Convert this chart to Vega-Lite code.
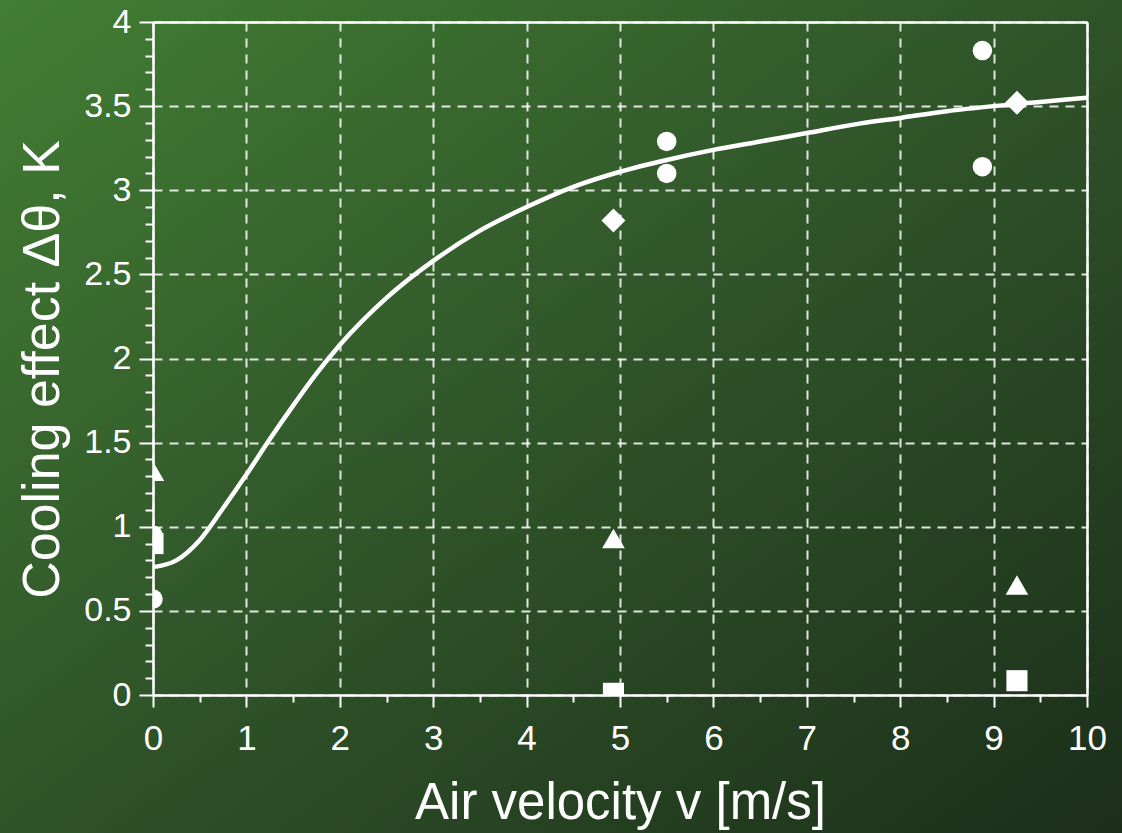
{
  "$schema": "https://vega.github.io/schema/vega-lite/v6.json",
  "width": 934,
  "height": 673,
  "autosize": {"type": "none"},
  "padding": {"left": 153, "top": 22, "right": 35, "bottom": 138},
  "background": "#2f5228",
  "config": {
    "view": {"stroke": null},
    "font": "Liberation Sans",
    "axis": {"labelFont": "Liberation Sans", "titleFont": "Liberation Sans", "labelColor": "white", "titleColor": "white", "titleFontWeight": "normal", "labelFlush": false, "labelOverlap": false}
  },
  "datasets": {
    "fit": [
      {"v": 0, "dT": 0.76}, {"v": 0.25, "dT": 0.80}, {"v": 0.5, "dT": 0.92}, {"v": 0.75, "dT": 1.11},
      {"v": 1, "dT": 1.31}, {"v": 1.25, "dT": 1.52}, {"v": 1.5, "dT": 1.72}, {"v": 1.75, "dT": 1.91},
      {"v": 2, "dT": 2.08}, {"v": 2.5, "dT": 2.36}, {"v": 3, "dT": 2.58}, {"v": 3.5, "dT": 2.76},
      {"v": 4, "dT": 2.90}, {"v": 4.5, "dT": 3.02}, {"v": 5, "dT": 3.11}, {"v": 5.5, "dT": 3.18},
      {"v": 6, "dT": 3.24}, {"v": 6.5, "dT": 3.29}, {"v": 7, "dT": 3.34}, {"v": 7.5, "dT": 3.39},
      {"v": 8, "dT": 3.43}, {"v": 8.5, "dT": 3.47}, {"v": 9, "dT": 3.50}, {"v": 9.5, "dT": 3.525},
      {"v": 10, "dT": 3.55}
    ],
    "points": [
      {"v": 0, "dT": 0.57, "series": "circle"},
      {"v": 0, "dT": 0.95, "series": "circle"},
      {"v": 5.5, "dT": 3.29, "series": "circle"},
      {"v": 5.5, "dT": 3.10, "series": "circle"},
      {"v": 8.88, "dT": 3.83, "series": "circle"},
      {"v": 8.88, "dT": 3.14, "series": "circle"},
      {"v": 0, "dT": 0.9, "series": "square"},
      {"v": 4.93, "dT": 0.01, "series": "square"},
      {"v": 9.25, "dT": 0.085, "series": "square"},
      {"v": 0, "dT": 1.33, "series": "triangle"},
      {"v": 4.93, "dT": 0.93, "series": "triangle"},
      {"v": 9.25, "dT": 0.654, "series": "triangle"},
      {"v": 4.93, "dT": 2.82, "series": "diamond"},
      {"v": 9.25, "dT": 3.52, "series": "diamond"}
    ]
  },
  "resolve": {"axis": {"x": "independent", "y": "independent"}},
  "layer": [
    {
      "data": {"values": [{}]},
      "mark": {"type": "rect", "fill": {"gradient": "linear", "x1": 0, "y1": 0, "x2": 1, "y2": 1, "stops": [{"offset": 0, "color": "#427e33"}, {"offset": 0.45, "color": "#31572a"}, {"offset": 1, "color": "#1b2e19"}]}},
      "encoding": {
        "x": {"datum": -1.64, "type": "quantitative", "scale": {"domain": [0, 10], "nice": false, "zero": false},
          "axis": {"orient": "bottom", "zindex": 1, "title": "Air velocity v [m/s]", "values": [0,1,2,3,4,5,6,7,8,9,10], "format": "~r",
            "domainColor": "white", "domainWidth": 2.5, "tickColor": "white", "tickWidth": 2, "tickSize": 12,
            "labelFontSize": 35, "labelPadding": 14, "titleFontSize": 51, "titleY": 123, "titleBaseline": "alphabetic",
            "grid": true, "gridColor": "white", "gridOpacity": 0.85, "gridDash": [9, 7], "gridWidth": 2}},
        "x2": {"datum": 10.38},
        "y": {"datum": -0.82, "type": "quantitative", "scale": {"domain": [0, 4], "nice": false, "zero": false},
          "axis": {"orient": "left", "zindex": 1, "title": "Cooling effect Δθ, K", "values": [0,0.5,1,1.5,2,2.5,3,3.5,4], "format": "~r",
            "domainColor": "white", "domainWidth": 2.5, "tickColor": "white", "tickWidth": 2, "tickSize": 14,
            "labelFontSize": 34, "labelPadding": 8, "titleFontSize": 52, "titleX": -95, "titleY": 347, "titleBaseline": "alphabetic",
            "grid": true, "gridColor": "white", "gridOpacity": 0.85, "gridDash": [9, 7], "gridWidth": 2}},
        "y2": {"datum": 4.14}
      }
    },
    {
      "data": {"name": "fit"},
      "mark": {"type": "line", "color": "white", "strokeWidth": 4.5, "interpolate": "monotone"},
      "encoding": {
        "x": {"field": "v", "type": "quantitative",
          "axis": {"orient": "bottom", "zindex": 1, "title": null, "values": [0.5,1.5,2.5,3.5,4.5,5.5,6.5,7.5,8.5,9.5], "labels": false, "domain": false, "grid": false, "tickColor": "white", "tickWidth": 2, "tickSize": 7}},
        "y": {"field": "dT", "type": "quantitative",
          "axis": {"orient": "left", "zindex": 1, "title": null, "values": [0.1,0.2,0.3,0.4,0.6,0.7,0.8,0.9,1.1,1.2,1.3,1.4,1.6,1.7,1.8,1.9,2.1,2.2,2.3,2.4,2.6,2.7,2.8,2.9,3.1,3.2,3.3,3.4,3.6,3.7,3.8,3.9], "labels": false, "domain": false, "grid": false, "tickColor": "white", "tickWidth": 2, "tickSize": 8}}
      }
    },
    {
      "data": {"name": "points"},
      "mark": {"type": "point", "filled": true, "opacity": 1, "color": "white", "clip": true},
      "encoding": {
        "x": {"field": "v", "type": "quantitative",
          "axis": {"orient": "top", "zindex": 1, "title": null, "labels": false, "ticks": false, "grid": false, "domain": true, "domainColor": "white", "domainWidth": 2.5}},
        "y": {"field": "dT", "type": "quantitative",
          "axis": {"orient": "right", "zindex": 1, "title": null, "labels": false, "ticks": false, "grid": false, "domain": true, "domainColor": "white", "domainWidth": 2.5}},
        "shape": {"field": "series", "type": "nominal", "legend": null,
          "scale": {"domain": ["circle", "square", "triangle", "diamond"], "range": ["circle", "square", "triangle-up", "diamond"]}},
        "size": {"field": "series", "type": "ordinal", "legend": null,
          "scale": {"domain": ["circle", "square", "triangle", "diamond"], "range": [380, 576, 576, 676]}}
      }
    }
  ]
}
